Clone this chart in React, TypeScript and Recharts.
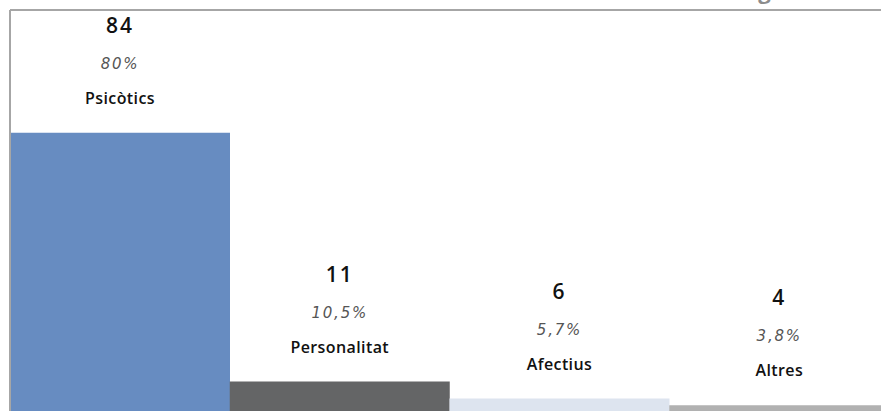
import { BarChart, Bar, XAxis, YAxis, Cell, LabelList } from "recharts";

const categories = ["Psicòtics", "Personalitat", "Afectius", "Altres"];
const counts = [84, 11, 6, 4];
const percents = ["80%", "10,5%", "5,7%", "3,8%"];
const COLORS = ["#678cc1", "#646566", "#dde4ef", "#b1b1b1"];
const FRAME = "#a6a6a6";

const data = categories.map((name, i) => ({ name, value: counts[i] }));

const renderLabel = (props: any) => {
  const { x, y, width, index } = props;
  const cx = x + width / 2;
  return (
    <g>
      <text
        x={cx}
        y={y - 100}
        textAnchor="middle"
        fontFamily="'Open Sans', sans-serif"
        fontWeight={600}
        fontSize={21}
        letterSpacing={2}
        fill="#111"
      >
        {counts[index]}
      </text>
      <text
        x={cx}
        y={y - 64}
        textAnchor="middle"
        fontFamily="'DejaVu Sans', sans-serif"
        fontStyle="italic"
        fontSize={15}
        letterSpacing={1.8}
        fill="#555"
      >
        {percents[index]}
      </text>
      <text
        x={cx}
        y={y - 29}
        textAnchor="middle"
        fontFamily="'Open Sans', sans-serif"
        fontWeight={600}
        fontSize={16}
        letterSpacing={0.4}
        fill="#111"
      >
        {categories[index]}
      </text>
    </g>
  );
};

export default function App() {
  return (
    <div style={{ position: "absolute", left: 0, top: -30, width: 900, height: 449 }}>
      <BarChart
        width={900}
        height={449}
        data={data}
        barCategoryGap={0}
        margin={{ top: 39, right: 11, left: 9, bottom: 0 }}
      >
        <text
          x={722}
          y={29}
          fontFamily="'Open Sans', sans-serif"
          fontWeight={700}
          fontSize={22}
          fill="#8c8c8c"
        >
          Diagnòstic
        </text>
        <XAxis
          dataKey="name"
          orientation="top"
          height={1}
          tick={false}
          tickLine={false}
          axisLine={{ stroke: FRAME, strokeWidth: 2 }}
        />
        <YAxis
          width={1}
          domain={[0, 120]}
          tick={false}
          tickLine={false}
          axisLine={{ stroke: FRAME, strokeWidth: 2 }}
        />
        <Bar dataKey="value" isAnimationActive={false}>
          {data.map((d, i) => (
            <Cell key={d.name} fill={COLORS[i]} />
          ))}
          <LabelList dataKey="value" content={renderLabel} />
        </Bar>
      </BarChart>
    </div>
  );
}
